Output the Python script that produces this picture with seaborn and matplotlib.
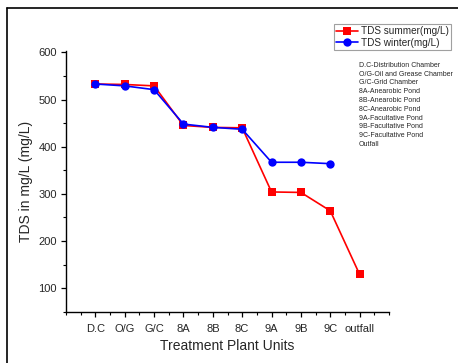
import numpy as np
import pandas as pd
import matplotlib
matplotlib.use("Agg")
import matplotlib.pyplot as plt
import seaborn as sns
from matplotlib.lines import Line2D
from matplotlib.ticker import MultipleLocator

categories = ["D.C", "O/G", "G/C", "8A", "8B", "8C", "9A", "9B", "9C", "outfall"]
tds_summer = [533, 532, 529, 445, 441, 440, 304, 303, 264, 129]
tds_winter = [533, 529, 521, 448, 441, 437, 367, 367, 364, np.nan]
series_labels = ["TDS summer(mg/L)", "TDS winter(mg/L)"]
notes = [
    "D.C-Distribution Chamber",
    "O/G-Oil and Grease Chamber",
    "G/C-Grid Chamber",
    "8A-Anearobic Pond",
    "8B-Anearobic Pond",
    "8C-Anearobic Pond",
    "9A-Facultative Pond",
    "9B-Facultative Pond",
    "9C-Facultative Pond",
    "Outfall",
]

sns.set_style("white")
plt.rcParams["font.family"] = ["Liberation Sans", "DejaVu Sans"]

W, H = 458, 363
fig = plt.figure(figsize=(W / 100, H / 100), dpi=100)
ax = fig.add_axes([66 / W, 1 - 311.7 / H, (389 - 66) / W, (311.7 - 51) / H])

pos = np.arange(len(categories))
df_s = pd.DataFrame({"x": pos, "y": tds_summer})
df_w = pd.DataFrame({"x": pos, "y": tds_winter}).dropna()

sns.lineplot(data=df_s, x="x", y="y", ax=ax, color="#ff0000", marker="s",
             markersize=5.5, markeredgewidth=0, linewidth=1.2,
             label=series_labels[0])
sns.lineplot(data=df_w, x="x", y="y", ax=ax, color="#0000ff", marker="o",
             markersize=6, markeredgewidth=0, linewidth=1.2,
             label=series_labels[1])

ax.set_xlim(-1, len(categories))
ax.set_ylim(50, 603)
ax.set_xticks(pos)
ax.set_xticklabels(categories)
ax.xaxis.set_minor_locator(MultipleLocator(0.5))
ax.yaxis.set_major_locator(MultipleLocator(100))
ax.yaxis.set_minor_locator(MultipleLocator(50))
ax.set_yticks([100, 200, 300, 400, 500, 600])

for s in ["top", "right"]:
    ax.spines[s].set_visible(False)
for s in ["left", "bottom"]:
    ax.spines[s].set_color("black")
    ax.spines[s].set_linewidth(1.0)

ax.tick_params(axis="both", which="major", direction="out", length=3.5,
               width=0.9, labelsize=8, pad=3, color="black",
               bottom=True, left=True)
ax.tick_params(axis="both", which="minor", direction="out", length=2,
               width=0.8, color="black", bottom=True, left=True)
ax.tick_params(axis="x", which="major", pad=5)

ax.set_xlabel("Treatment Plant Units", fontsize=10, labelpad=4)
ax.set_ylabel("TDS in mg/L (mg/L)", fontsize=10, labelpad=4)

leg = ax.legend(loc="upper right", bbox_to_anchor=(451 / W, 1 - 24 / H),
                bbox_transform=fig.transFigure, fontsize=7.2, frameon=True,
                fancybox=False, edgecolor="#888888", handlelength=2.2,
                handletextpad=0.25, borderpad=0.25, labelspacing=0.1,
                borderaxespad=0)
leg.get_frame().set_linewidth(0.8)

fig.text(359 / W, 1 - 62 / H, "\n".join(notes), fontsize=5, va="top",
         ha="left", linespacing=1.35)

# outer frame lines
fig.add_artist(Line2D([7 / W, 7 / W], [0, 1 - 8 / H], transform=fig.transFigure,
                      color="black", linewidth=1.2))
fig.add_artist(Line2D([7 / W, 1], [1 - 8 / H, 1 - 8 / H], transform=fig.transFigure,
                      color="black", linewidth=1.2))

fig.savefig("out.png", dpi=100)
